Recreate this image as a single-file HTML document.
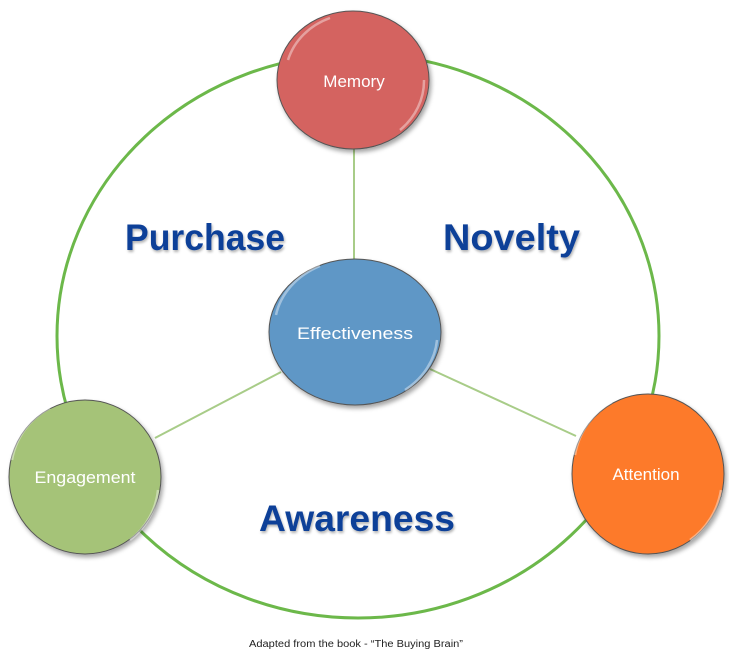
<!DOCTYPE html>
<html><head><style>html,body{margin:0;padding:0;background:#fff;}</style></head><body>
<svg width="729" height="656" viewBox="0 0 729 656" xmlns="http://www.w3.org/2000/svg" font-family="'Liberation Sans',sans-serif">
<defs>
<filter id="sh" x="-20%" y="-20%" width="140%" height="140%"><feDropShadow dx="2" dy="3" stdDeviation="2" flood-color="#000" flood-opacity="0.35"/></filter>
<filter id="ts"><feDropShadow dx="1" dy="2" stdDeviation="1.2" flood-color="#000" flood-opacity="0.3"/></filter>
</defs>
<ellipse cx="358" cy="336" rx="301" ry="282" fill="none" stroke="#6cb84a" stroke-width="3"/>
<line x1="354" y1="148" x2="354" y2="262" stroke="#a8cc88" stroke-width="2"/>
<line x1="281" y1="372" x2="155" y2="438" stroke="#a8cc88" stroke-width="2"/>
<line x1="430" y1="369" x2="576" y2="436" stroke="#a8cc88" stroke-width="2"/>
<g filter="url(#sh)" stroke="#555" stroke-width="1">
<ellipse cx="353" cy="80" rx="76" ry="69" fill="#d46461"/>
<ellipse cx="355" cy="332" rx="86" ry="73" fill="#5f97c6"/>
<ellipse cx="85" cy="477" rx="76" ry="77" fill="#a5c378"/>
<ellipse cx="648" cy="474" rx="76" ry="80" fill="#fd7a2b"/>
</g>
<g fill="none" stroke="#fff" stroke-opacity="0.4" stroke-width="2.5">
<path d="M288 60 A70 64 0 0 1 330 18"/><path d="M424 80 A72 66 0 0 1 400 130"/>
<path d="M276 315 A80 68 0 0 1 320 266"/><path d="M437 340 A82 70 0 0 1 405 390"/>
<path d="M12 460 A72 72 0 0 1 50 408"/><path d="M158 490 A72 72 0 0 1 130 540"/>
<path d="M575 455 A72 75 0 0 1 612 402"/><path d="M721 490 A72 75 0 0 1 690 540"/>
</g>
<g fill="#fff" font-size="17" text-anchor="middle">
<text x="354" y="87">Memory</text>
<text x="355" y="339" textLength="116" lengthAdjust="spacingAndGlyphs">Effectiveness</text>
<text x="85" y="483" textLength="101" lengthAdjust="spacingAndGlyphs">Engagement</text>
<text x="646" y="480">Attention</text>
</g>
<g fill="#0d3f98" font-weight="bold" font-size="37" filter="url(#ts)">
<text x="125" y="250" textLength="160" lengthAdjust="spacingAndGlyphs">Purchase</text>
<text x="443" y="250" textLength="137" lengthAdjust="spacingAndGlyphs">Novelty</text>
<text x="259" y="531" textLength="196" lengthAdjust="spacingAndGlyphs">Awareness</text>
</g>
<text x="249" y="647" font-size="10" fill="#222" textLength="214" lengthAdjust="spacingAndGlyphs">Adapted from the book  - “The Buying Brain”</text>
</svg>
</body></html>
